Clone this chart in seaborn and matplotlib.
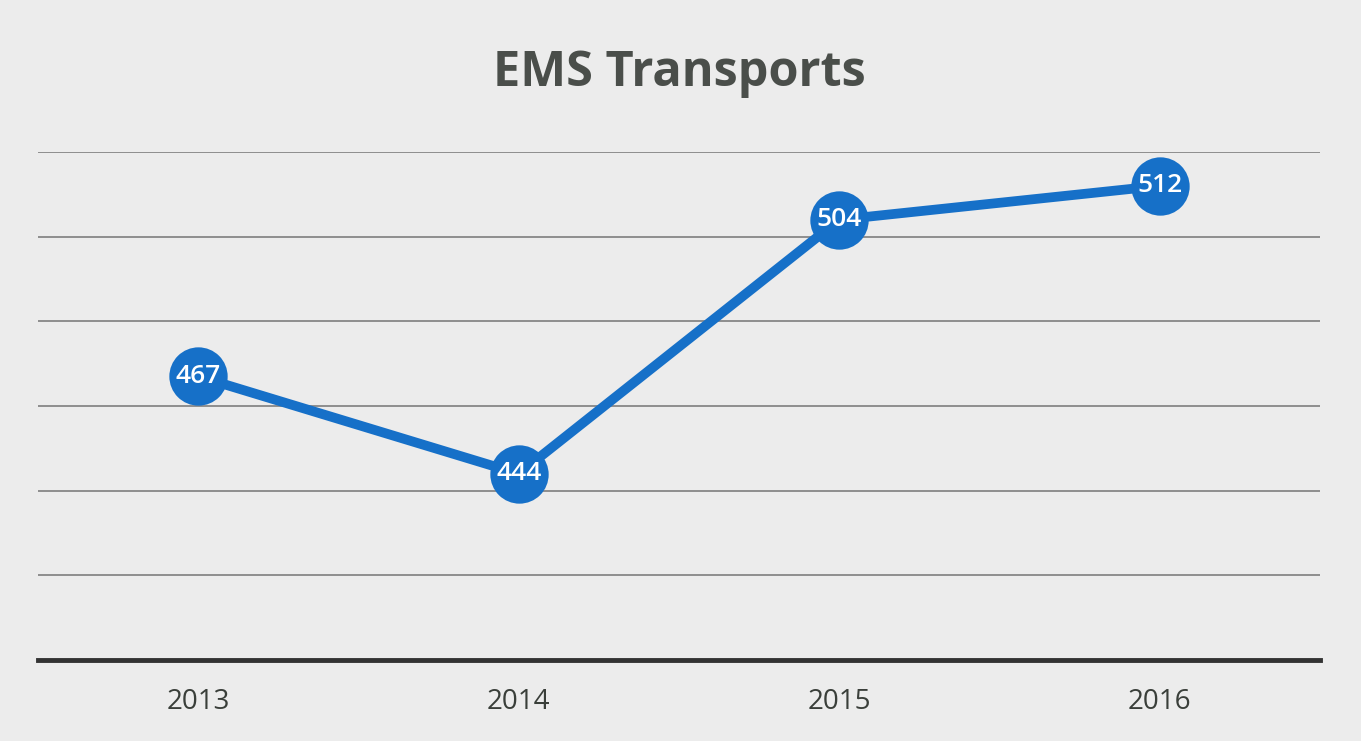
import matplotlib
matplotlib.use("Agg")
import matplotlib.pyplot as plt
import seaborn as sns
import pandas as pd

years = ["2013", "2014", "2015", "2016"]
transports = [467, 444, 504, 512]
title = "EMS Transports"

sns.set_theme(style="white")
plt.rcParams['font.family'] = ['Open Sans', 'DejaVu Sans']

df = pd.DataFrame({"year": years, "value": transports})

fig = plt.figure(figsize=(13.61, 7.41), dpi=100)
fig.patch.set_facecolor("#ececec")
ax = fig.add_axes([38/1361, 1 - 660/741, (1320 - 38)/1361, (660 - 152)/741])
ax.set_facecolor("none")

blue = "#1670c8"
sns.lineplot(data=df, x="year", y="value", ax=ax, color=blue, linewidth=7,
             marker="o", markersize=42, markeredgewidth=0, zorder=5, sort=False)

for i, v in enumerate(transports):
    ax.text(i, v, str(v), ha="center", va="center", color="white",
            fontsize=19, fontweight="semibold", zorder=6)

ax.set_xlim(-0.5, 3.5)
ax.set_ylim(400, 520)
ax.set_yticks([420, 440, 460, 480, 500, 520])
ax.yaxis.grid(True, color="#8e8e8e", linewidth=1.4)
ax.set_axisbelow(True)
ax.tick_params(axis="y", left=False, labelleft=False)
ax.tick_params(axis="x", bottom=False, labelsize=20, colors="#3a3f3a", pad=14)
ax.set_xlabel("")
ax.set_ylabel("")
for s in ["top", "right", "left"]:
    ax.spines[s].set_visible(False)
ax.spines["bottom"].set_color("#333333")
ax.spines["bottom"].set_linewidth(3.5)

fig.text(679/1361, 1 - 73/741, title, ha="center", va="center",
         fontsize=35, fontweight="bold", color="#4a4e4a")

fig.savefig("out.png", dpi=100, facecolor=fig.get_facecolor())
